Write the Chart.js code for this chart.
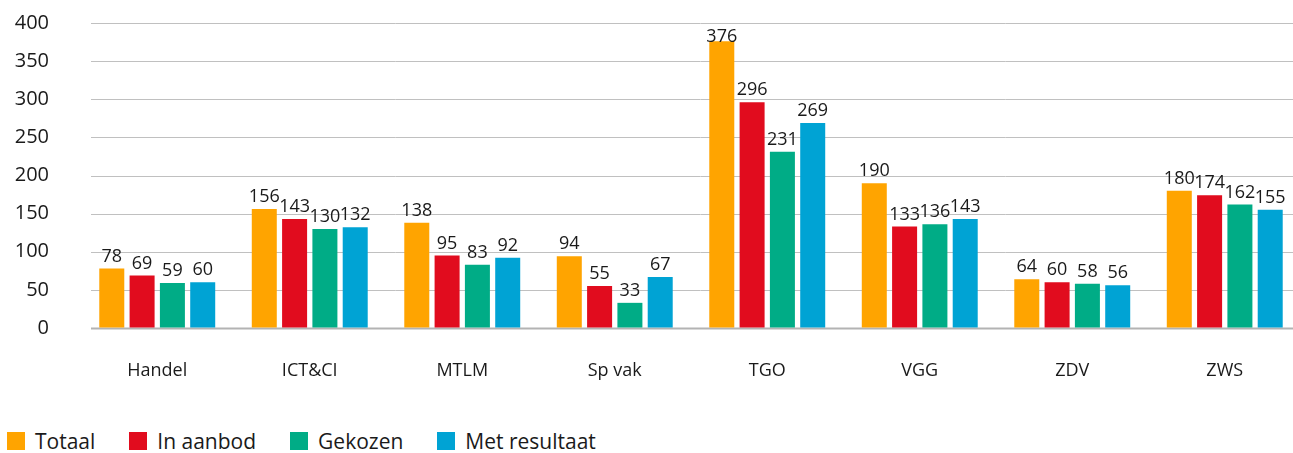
<!DOCTYPE html>
<html>
<head>
<meta charset="utf-8">
<script src="https://cdn.jsdelivr.net/npm/chart.js@4"></script>
<style>
    html, body { margin: 0; padding: 0; background: #fff; overflow: hidden; }
    #wrap { position: relative; width: 1293px; height: 453px; overflow: hidden; }
    #barChart { position: absolute; left: 0; top: 0; }
    #legend { position: absolute; left: 7px; top: 427px; display: flex; font-family: "Open Sans", sans-serif; font-size: 21px; color: #1a1a1a; }
    .lg-item { display: flex; align-items: center; margin-right: 34px; }
    .lg-box { width: 18px; height: 18px; margin-right: 10px; }
</style>
</head>
<body>
<div id="wrap">
    <canvas id="barChart" width="1310" height="400"></canvas>
    <div id="legend"></div>
</div>
<script>
// Dữ liệu biểu đồ
const categories = ['Handel', 'ICT&CI', 'MTLM', 'Sp vak', 'TGO', 'VGG', 'ZDV', 'ZWS'];
const seriesNames = ['Totaal', 'In aanbod', 'Gekozen', 'Met resultaat'];
const totaal = [78, 156, 138, 94, 376, 190, 64, 180];
const inAanbod = [69, 143, 95, 55, 296, 133, 60, 174];
const gekozen = [59, 130, 83, 33, 231, 136, 58, 162];
const metResultaat = [60, 132, 92, 67, 269, 143, 56, 155];
const yTicks = [0, 50, 100, 150, 200, 250, 300, 350, 400];

const colors = ['#FFA400', '#E10C1E', '#00AC86', '#00A3D4'];
const FONT = '"Open Sans", sans-serif';

// Vẽ đường lưới ngang (bắt đầu lệch sang phải như bản gốc)
const gridPlugin = {
    id: 'gridPlugin',
    beforeDatasetsDraw(chart) {
        const ctx = chart.ctx;
        const y = chart.scales.y;
        ctx.save();
        yTicks.forEach(v => {
            const py = Math.round(y.getPixelForValue(v)) + 0.5;
            ctx.beginPath();
            ctx.strokeStyle = v === 0 ? '#b3b3b3' : '#c0c0c0';
            ctx.lineWidth = v === 0 ? 2 : 1;
            ctx.moveTo(91, py);
            ctx.lineTo(chart.width, py);
            ctx.stroke();
        });
        ctx.restore();
    }
};

// Nhãn giá trị trên mỗi cột
const valueLabels = {
    id: 'valueLabels',
    afterDatasetsDraw(chart) {
        const ctx = chart.ctx;
        ctx.save();
        ctx.font = '18px ' + FONT;
        ctx.fillStyle = '#1a1a1a';
        ctx.textAlign = 'center';
        ctx.textBaseline = 'bottom';
        chart.data.datasets.forEach((ds, i) => {
            chart.getDatasetMeta(i).data.forEach((bar, j) => {
                const ty = Math.max(bar.y - 3, chart.chartArea.top + 23);
                ctx.fillText(ds.data[j], bar.x, ty);
            });
        });
        ctx.restore();
    }
};

const seriesData = [totaal, inAanbod, gekozen, metResultaat];

new Chart(document.getElementById('barChart'), {
    type: 'bar',
    data: {
        labels: categories,
        datasets: seriesNames.map((name, i) => ({
            label: name,
            data: seriesData[i],
            backgroundColor: colors[i],
            borderWidth: 0,
            categoryPercentage: 0.795,
            barPercentage: 0.825
        }))
    },
    options: {
        responsive: false,
        animation: false,
        layout: { padding: { top: 23, right: 9, bottom: 17.6, left: 0 } },
        plugins: {
            legend: { display: false },
            tooltip: { enabled: false }
        },
        scales: {
            x: {
                grid: { display: false, drawTicks: false },
                border: { display: false },
                ticks: { color: '#1a1a1a', font: { family: FONT, size: 18 }, padding: 32, maxRotation: 0 },
                afterFit: scale => { scale.height = 54.4; }
            },
            y: {
                min: 0,
                max: 400,
                grid: { display: true, color: 'rgba(0,0,0,0)', drawTicks: true, tickLength: 32 },
                border: { display: false },
                ticks: { stepSize: 50, color: '#1a1a1a', font: { family: FONT, size: 20 }, padding: 0 },
                afterFit: scale => { scale.width = 81; }
            }
        }
    },
    plugins: [gridPlugin, valueLabels]
});

// Chú thích dạng HTML
const legend = document.getElementById('legend');
seriesNames.forEach((name, i) => {
    legend.innerHTML += `<div class="lg-item"><div class="lg-box" style="background:${colors[i]}"></div><span>${name}</span></div>`;
});
</script>
</body>
</html>
